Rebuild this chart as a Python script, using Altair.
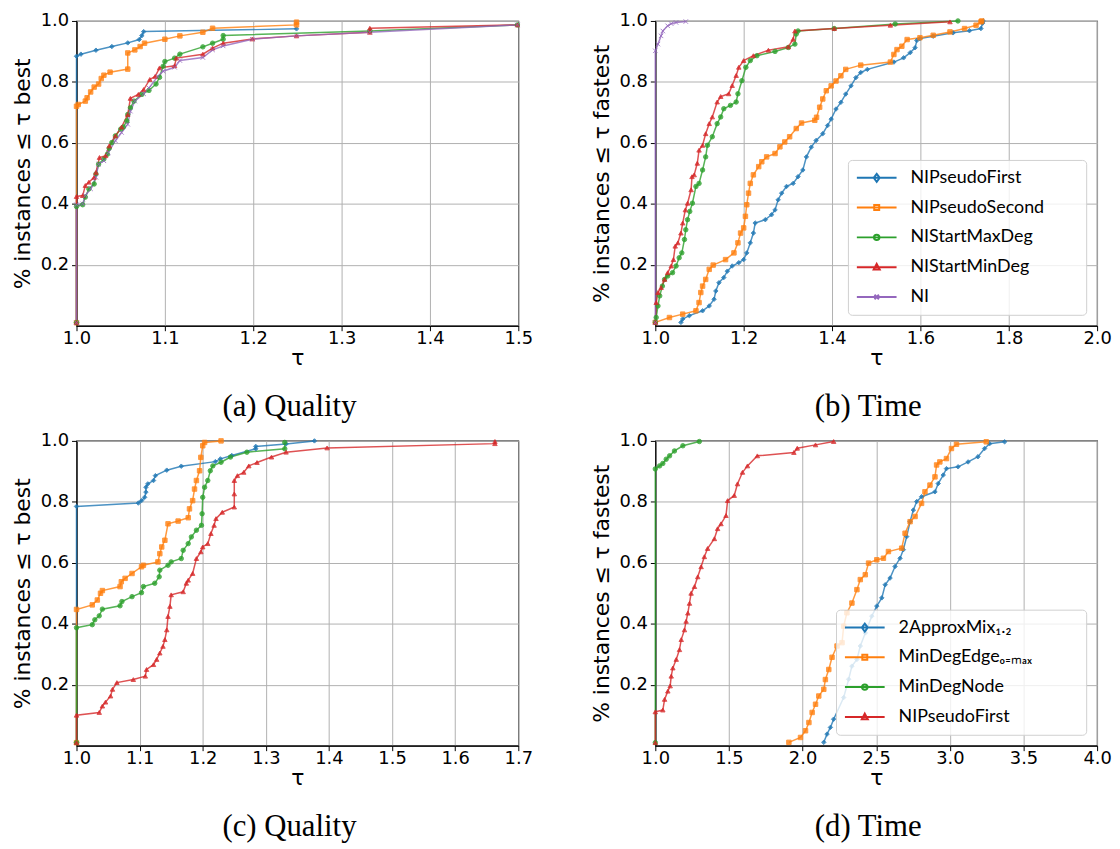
import altair as alt
import pandas as pd

# ---------------- data ----------------
A_NAMES = ["NIPseudoFirst", "NIPseudoSecond", "NIStartMaxDeg", "NIStartMinDeg", "NI"]
D_NAMES = ["2ApproxMix\u2081.\u2082", "MinDegEdge\u2092\u208c\u2098\u2090\u2093", "MinDegNode", "NIPseudoFirst"]

# (a) Quality
A_FIRST_T = [1.0, 1.0, 1.005, 1.022, 1.040, 1.058, 1.071, 1.074, 1.076, 1.249]
A_FIRST_Y = [0.01, 0.884, 0.891, 0.904, 0.916, 0.928, 0.939, 0.952, 0.965, 0.974]
A_SECOND_T = [1.0, 1.0, 1.002, 1.010, 1.012, 1.016, 1.020, 1.025, 1.028, 1.031, 1.038, 1.058, 1.058,
              1.066, 1.072, 1.077, 1.100, 1.117, 1.143, 1.154, 1.249, 1.249]
A_SECOND_Y = [0.01, 0.72, 0.726, 0.737, 0.748, 0.767, 0.783, 0.793, 0.811, 0.822, 0.832, 0.842, 0.895,
              0.905, 0.916, 0.927, 0.940, 0.951, 0.963, 0.976, 0.987, 0.996]
A_MAX_T = [1.0, 1.0, 1.007, 1.010, 1.014, 1.020, 1.022, 1.025, 1.031, 1.035, 1.037, 1.040, 1.044, 1.050,
           1.053, 1.057, 1.058, 1.061, 1.065, 1.074, 1.082, 1.090, 1.094, 1.098, 1.100, 1.111, 1.117,
           1.143, 1.154, 1.166, 1.166, 1.332, 1.499]
A_MAX_Y = [0.01, 0.391, 0.397, 0.422, 0.449, 0.465, 0.498, 0.530, 0.547, 0.563, 0.582, 0.601, 0.623, 0.645,
           0.652, 0.672, 0.693, 0.715, 0.737, 0.759, 0.772, 0.793, 0.815, 0.851, 0.867, 0.878, 0.891,
           0.915, 0.927, 0.940, 0.952, 0.967, 0.987]
A_MIN_T = [1.0, 1.0, 1.007, 1.010, 1.014, 1.020, 1.022, 1.026, 1.033, 1.037, 1.044, 1.051, 1.058, 1.061,
           1.070, 1.076, 1.083, 1.089, 1.094, 1.111, 1.113, 1.143, 1.154, 1.166, 1.199, 1.249, 1.332,
           1.332, 1.499]
A_MIN_Y = [0.01, 0.424, 0.427, 0.460, 0.471, 0.487, 0.503, 0.552, 0.558, 0.590, 0.623, 0.652, 0.693, 0.746,
           0.759, 0.775, 0.808, 0.818, 0.846, 0.853, 0.878, 0.891, 0.911, 0.927, 0.941, 0.951, 0.963,
           0.976, 0.987]
A_NI_T = [1.0, 1.0, 1.007, 1.010, 1.016, 1.022, 1.025, 1.031, 1.036, 1.044, 1.051, 1.058, 1.061, 1.066,
          1.076, 1.082, 1.092, 1.098, 1.111, 1.117, 1.143, 1.154, 1.166, 1.199, 1.249, 1.332, 1.499]
A_NI_Y = [0.01, 0.397, 0.400, 0.427, 0.449, 0.487, 0.530, 0.541, 0.568, 0.607, 0.634, 0.661, 0.704, 0.737,
          0.761, 0.780, 0.818, 0.835, 0.848, 0.870, 0.880, 0.905, 0.918, 0.940, 0.951, 0.963, 0.987]

# (b) Time
B_FIRST_T = [1.058, 1.062, 1.077, 1.107, 1.122, 1.133, 1.137, 1.144, 1.155, 1.163, 1.174, 1.189, 1.200,
             1.207, 1.215, 1.222, 1.226, 1.249, 1.263, 1.271, 1.278, 1.286, 1.297, 1.312, 1.323, 1.334,
             1.342, 1.353, 1.364, 1.379, 1.390, 1.398, 1.409, 1.420, 1.431, 1.443, 1.454, 1.465, 1.480,
             1.540, 1.562, 1.577, 1.588, 1.592, 1.599, 1.629, 1.674, 1.711, 1.737, 1.741, 1.742]
B_FIRST_Y = [0.011, 0.022, 0.033, 0.049, 0.065, 0.087, 0.114, 0.141, 0.158, 0.179, 0.196, 0.207, 0.217,
             0.239, 0.272, 0.304, 0.337, 0.348, 0.364, 0.380, 0.413, 0.435, 0.457, 0.467, 0.489, 0.511,
             0.554, 0.586, 0.608, 0.630, 0.657, 0.678, 0.711, 0.733, 0.760, 0.787, 0.814, 0.831, 0.841,
             0.865, 0.879, 0.896, 0.912, 0.936, 0.942, 0.950, 0.961, 0.968, 0.975, 0.993, 1.0]
B_SECOND_T = [1.0, 1.032, 1.062, 1.092, 1.099, 1.103, 1.107, 1.114, 1.122, 1.131, 1.159, 1.178, 1.187,
              1.193, 1.200, 1.204, 1.207, 1.211, 1.215, 1.222, 1.234, 1.241, 1.252, 1.271, 1.282, 1.293,
              1.304, 1.319, 1.331, 1.361, 1.365, 1.372, 1.379, 1.387, 1.398, 1.409, 1.420, 1.431, 1.465,
              1.532, 1.540, 1.547, 1.558, 1.570, 1.599, 1.629, 1.667, 1.700, 1.726, 1.737, 1.739]
B_SECOND_Y = [0.011, 0.027, 0.038, 0.049, 0.076, 0.109, 0.130, 0.152, 0.185, 0.199, 0.217, 0.239, 0.272,
              0.304, 0.321, 0.359, 0.397, 0.435, 0.467, 0.495, 0.522, 0.538, 0.554, 0.565, 0.587, 0.603,
              0.620, 0.647, 0.665, 0.674, 0.684, 0.717, 0.744, 0.771, 0.787, 0.803, 0.820, 0.841, 0.855,
              0.865, 0.890, 0.906, 0.917, 0.939, 0.945, 0.953, 0.964, 0.975, 0.986, 0.997, 1.0]
B_MAX_T = [1.0, 1.002, 1.006, 1.010, 1.016, 1.021, 1.028, 1.039, 1.047, 1.054, 1.060, 1.066, 1.069, 1.073,
           1.078, 1.084, 1.092, 1.099, 1.107, 1.114, 1.118, 1.129, 1.140, 1.148, 1.155, 1.170, 1.183,
           1.187, 1.196, 1.205, 1.215, 1.230, 1.271, 1.301, 1.316, 1.319, 1.323, 1.405, 1.543, 1.685]
B_MAX_Y = [0.011, 0.027, 0.065, 0.098, 0.130, 0.152, 0.163, 0.174, 0.196, 0.223, 0.239, 0.283, 0.315, 0.348,
           0.375, 0.402, 0.457, 0.467, 0.511, 0.554, 0.592, 0.620, 0.663, 0.685, 0.712, 0.723, 0.734,
           0.761, 0.804, 0.848, 0.870, 0.886, 0.900, 0.913, 0.924, 0.957, 0.967, 0.975, 0.990, 1.0]
B_MIN_T = [1.0, 1.002, 1.006, 1.013, 1.021, 1.028, 1.036, 1.041, 1.045, 1.051, 1.058, 1.062, 1.068, 1.073,
           1.081, 1.083, 1.088, 1.095, 1.099, 1.107, 1.114, 1.122, 1.129, 1.140, 1.148, 1.166, 1.174,
           1.183, 1.189, 1.200, 1.222, 1.256, 1.301, 1.312, 1.316, 1.405, 1.532, 1.667]
B_MIN_Y = [0.011, 0.076, 0.109, 0.125, 0.152, 0.174, 0.196, 0.217, 0.261, 0.272, 0.304, 0.337, 0.380, 0.402,
           0.446, 0.489, 0.495, 0.533, 0.576, 0.592, 0.630, 0.663, 0.685, 0.734, 0.752, 0.761, 0.788,
           0.821, 0.848, 0.870, 0.886, 0.904, 0.915, 0.940, 0.967, 0.975, 0.986, 0.997]
B_NI_T = [1.0, 1.0, 1.006, 1.013, 1.017, 1.028, 1.036, 1.047, 1.069]
B_NI_Y = [0.01, 0.902, 0.924, 0.951, 0.967, 0.984, 0.991, 0.995, 0.998]

# (c) Quality
C_MIX_T = [1.0, 1.0, 1.098, 1.103, 1.108, 1.110, 1.110, 1.113, 1.122, 1.125, 1.143, 1.166, 1.220, 1.228,
           1.246, 1.284, 1.284, 1.332, 1.377]
C_MIX_Y = [0.01, 0.785, 0.796, 0.804, 0.815, 0.832, 0.848, 0.859, 0.870, 0.886, 0.904, 0.917, 0.932, 0.941,
           0.952, 0.974, 0.982, 0.990, 1.0]
C_EDGE_T = [1.0, 1.0, 1.025, 1.033, 1.038, 1.041, 1.069, 1.071, 1.077, 1.088, 1.103, 1.106, 1.129, 1.132,
            1.135, 1.140, 1.145, 1.161, 1.177, 1.179, 1.184, 1.187, 1.190, 1.195, 1.197, 1.200, 1.203, 1.229]
C_EDGE_Y = [0.01, 0.447, 0.462, 0.478, 0.500, 0.509, 0.522, 0.538, 0.549, 0.565, 0.587, 0.592, 0.603, 0.630,
            0.652, 0.674, 0.728, 0.737, 0.748, 0.777, 0.804, 0.842, 0.870, 0.902, 0.946, 0.984, 0.995, 1.0]
C_NODE_T = [1.0, 1.0, 1.025, 1.029, 1.036, 1.041, 1.069, 1.072, 1.088, 1.103, 1.106, 1.124, 1.131, 1.132,
            1.145, 1.150, 1.166, 1.169, 1.177, 1.182, 1.190, 1.198, 1.199, 1.200, 1.203, 1.208, 1.212,
            1.216, 1.229, 1.244, 1.270, 1.330, 1.330]
C_NODE_Y = [0.01, 0.387, 0.397, 0.413, 0.426, 0.448, 0.459, 0.473, 0.489, 0.502, 0.522, 0.533, 0.554, 0.576,
            0.592, 0.603, 0.614, 0.641, 0.663, 0.685, 0.707, 0.723, 0.761, 0.815, 0.848, 0.870, 0.902,
            0.918, 0.930, 0.947, 0.963, 0.974, 0.995]
C_NIP_T = [1.0, 1.0, 1.036, 1.041, 1.046, 1.054, 1.057, 1.064, 1.090, 1.109, 1.111, 1.122, 1.127, 1.132,
           1.137, 1.140, 1.143, 1.145, 1.148, 1.150, 1.169, 1.174, 1.177, 1.184, 1.190, 1.197, 1.200,
           1.208, 1.213, 1.218, 1.221, 1.231, 1.250, 1.250, 1.250, 1.255, 1.265, 1.273, 1.286, 1.309,
           1.332, 1.397, 1.663, 1.663]
C_NIP_Y = [0.01, 0.100, 0.109, 0.130, 0.143, 0.163, 0.185, 0.207, 0.217, 0.228, 0.250, 0.266, 0.283, 0.304,
           0.326, 0.348, 0.380, 0.424, 0.457, 0.495, 0.505, 0.533, 0.543, 0.565, 0.614, 0.636, 0.652,
           0.663, 0.696, 0.723, 0.745, 0.766, 0.783, 0.826, 0.870, 0.886, 0.897, 0.918, 0.929, 0.947,
           0.963, 0.977, 0.991, 0.998]

# (d) Time
D_MIX_T = [2.144, 2.166, 2.189, 2.211, 2.279, 2.313, 2.335, 2.369, 2.392, 2.426, 2.470, 2.504, 2.538, 2.561,
           2.594, 2.628, 2.662, 2.684, 2.707, 2.730, 2.752, 2.775, 2.808, 2.899, 2.921, 2.955, 2.977,
           3.056, 3.124, 3.191, 3.236, 3.270, 3.372]
D_MIX_Y = [0.011, 0.038, 0.060, 0.087, 0.158, 0.218, 0.261, 0.283, 0.327, 0.370, 0.425, 0.458, 0.485, 0.528,
           0.550, 0.588, 0.615, 0.643, 0.686, 0.735, 0.773, 0.801, 0.817, 0.833, 0.860, 0.888, 0.909,
           0.915, 0.931, 0.948, 0.975, 0.991, 0.997]
D_EDGE_T = [1.907, 1.986, 2.020, 2.043, 2.065, 2.088, 2.110, 2.144, 2.155, 2.178, 2.200, 2.234, 2.268, 2.279,
            2.301, 2.335, 2.369, 2.392, 2.426, 2.448, 2.504, 2.549, 2.583, 2.673, 2.696, 2.730, 2.764,
            2.808, 2.831, 2.865, 2.899, 2.910, 2.932, 2.977, 3.011, 3.045, 3.247]
D_EDGE_Y = [0.011, 0.027, 0.049, 0.076, 0.109, 0.136, 0.163, 0.185, 0.217, 0.250, 0.290, 0.327, 0.338, 0.392,
            0.436, 0.468, 0.512, 0.545, 0.561, 0.599, 0.610, 0.615, 0.637, 0.648, 0.697, 0.735, 0.752,
            0.795, 0.833, 0.855, 0.882, 0.921, 0.931, 0.942, 0.975, 0.989, 0.997]
D_NODE_T = [1.0, 1.0, 1.029, 1.051, 1.074, 1.097, 1.130, 1.187, 1.299]
D_NODE_Y = [0.01, 0.908, 0.918, 0.926, 0.940, 0.951, 0.967, 0.984, 0.998]
D_NIP_T = [1.0, 1.0, 1.051, 1.063, 1.085, 1.101, 1.108, 1.119, 1.142, 1.164, 1.176, 1.198, 1.209, 1.221,
           1.232, 1.243, 1.266, 1.288, 1.311, 1.333, 1.355, 1.401, 1.423, 1.446, 1.480, 1.491, 1.536,
           1.558, 1.592, 1.626, 1.693, 1.941, 1.964, 2.088, 2.211]
D_NIP_Y = [0.01, 0.111, 0.117, 0.152, 0.179, 0.196, 0.228, 0.255, 0.283, 0.315, 0.348, 0.380, 0.408, 0.435,
           0.467, 0.500, 0.522, 0.554, 0.587, 0.620, 0.647, 0.679, 0.712, 0.728, 0.755, 0.804, 0.821,
           0.859, 0.897, 0.918, 0.951, 0.962, 0.976, 0.987, 0.998]

Y_TICKS = [0.2, 0.4, 0.6, 0.8, 1.0]
XA_TICKS = [1.0, 1.1, 1.2, 1.3, 1.4, 1.5]
XB_TICKS = [1.0, 1.2, 1.4, 1.6, 1.8, 2.0]
XC_TICKS = [1.0, 1.1, 1.2, 1.3, 1.4, 1.5, 1.6, 1.7]
XD_TICKS = [1.0, 1.5, 2.0, 2.5, 3.0, 3.5, 4.0]

# ---------------- styling ----------------
COLORS = ["#1f77b4", "#ff7f0e", "#2ca02c", "#d62728", "#9467bd"]
MARKERS = ["diamond", "square", "circle", "triangle-up", "M-1,-1L1,1M-1,1L1,-1"]
# legend symbols: a 40px line with a small marker (size 100 -> 5px per unit)
LEGEND_SYMBOLS = [
    "M-4,0H4M0,-0.8L0.6,0L0,0.8L-0.6,0Z",
    "M-4,0H4M-0.5,-0.5H0.5V0.5H-0.5Z",
    "M-4,0H4M-0.55,0A0.55,0.55 0 1 0 0.55,0A0.55,0.55 0 1 0 -0.55,0Z",
    "M-4,0H4M0,-0.65L0.6,0.45H-0.6Z",
    "M-4,0H4M-0.45,-0.45L0.45,0.45M-0.45,0.45L0.45,-0.45",
]
W, H = 445, 307


def make_df(names, ts_list, ys_list):
    rows = []
    for name, ts, ys in zip(names, ts_list, ys_list):
        for i, (t, v) in enumerate(zip(ts, ys)):
            rows.append({"series": name, "tau": t, "share": v, "idx": i})
    return pd.DataFrame(rows)


def panel(names, ts_list, ys_list, xdomain, xticks, ytitle, caption, legend, spacer=0):
    n = len(names)
    df = make_df(names, ts_list, ys_list)
    cols = COLORS[:n]
    base = alt.Chart(df).encode(
        x=alt.X("tau:Q", scale=alt.Scale(domain=xdomain, nice=False, zero=False),
                axis=alt.Axis(values=xticks, format=".1f", title="τ", labelPadding=-1, titlePadding=0)),
        y=alt.Y("share:Q", scale=alt.Scale(domain=[0, 1], nice=False, zero=False),
                axis=alt.Axis(values=Y_TICKS, format=".1f", title=ytitle, titlePadding=6)),
    )
    lines = base.mark_line(strokeWidth=1.5, opacity=0.8, clip=False).encode(
        color=alt.Color("series:N", scale=alt.Scale(domain=names, range=cols), legend=None),
        order="idx:Q",
    )
    points = base.mark_point(filled=True, size=20, opacity=0.8, strokeWidth=1, clip=False).encode(
        fill=alt.Fill("series:N", scale=alt.Scale(domain=names, range=cols), legend=None),
        stroke=alt.Stroke("series:N", scale=alt.Scale(domain=names, range=cols), legend=None),
        shape=alt.Shape("series:N", scale=alt.Scale(domain=names, range=MARKERS[:n]), legend=None),
    )
    layers = [lines, points]
    if legend:
        # an invisible title on the right widens the box like matplotlib's legend frame
        leg = alt.Legend(
            title="MM", titleOrient="right", titleColor="rgba(0,0,0,0)", titleFont="Lato",
            titleFontSize=spacer, titlePadding=2,
            orient="bottom-right", offset=11, padding=9,
            labelFont="Lato", labelFontSize=18, labelColor="black", labelOffset=25,
            symbolSize=100, symbolOffset=11, symbolStrokeWidth=2, symbolOpacity=1,
            rowPadding=12, strokeColor="#d0d0d0", fillColor="rgba(255,255,255,0.8)",
            cornerRadius=4,
        )
        dummy = base.mark_point(filled=False, opacity=0, strokeWidth=2).encode(
            color=alt.Color("series:N", scale=alt.Scale(domain=names, range=cols), legend=leg),
            shape=alt.Shape("series:N", scale=alt.Scale(domain=names, range=LEGEND_SYMBOLS[:n]), legend=leg),
        )
        layers.append(dummy)
    return alt.layer(*layers).resolve_scale(
        color="independent", shape="independent", fill="independent", stroke="independent"
    ).properties(
        width=W, height=H,
        title=alt.TitleParams(caption, orient="bottom", font="Liberation Serif", fontSize=31,
                              fontWeight="normal", color="black", offset=24, frame="group", dx=-8),
    )


pa = panel(A_NAMES, [A_FIRST_T, A_SECOND_T, A_MAX_T, A_MIN_T, A_NI_T],
           [A_FIRST_Y, A_SECOND_Y, A_MAX_Y, A_MIN_Y, A_NI_Y],
           [1.0, 1.5], XA_TICKS, "% instances ≤ τ best", "(a) Quality", False)
pb = panel(A_NAMES, [B_FIRST_T, B_SECOND_T, B_MAX_T, B_MIN_T, B_NI_T],
           [B_FIRST_Y, B_SECOND_Y, B_MAX_Y, B_MIN_Y, B_NI_Y],
           [1.0, 2.0], XB_TICKS, "% instances ≤ τ fastest", "(b) Time", True, spacer=16)
pc = panel(D_NAMES, [C_MIX_T, C_EDGE_T, C_NODE_T, C_NIP_T],
           [C_MIX_Y, C_EDGE_Y, C_NODE_Y, C_NIP_Y],
           [1.0, 1.7], XC_TICKS, "% instances ≤ τ best", "(c) Quality", False)
pd_ = panel(D_NAMES, [D_MIX_T, D_EDGE_T, D_NODE_T, D_NIP_T],
            [D_MIX_Y, D_EDGE_Y, D_NODE_Y, D_NIP_Y],
            [1.0, 4.0], XD_TICKS, "% instances ≤ τ fastest", "(d) Time", True, spacer=23)

chart = alt.concat(
    pa, pb, pc, pd_, columns=2, spacing={"row": 116, "column": 138}, bounds="flush",
).properties(
    padding={"left": 2, "top": 0, "right": 0, "bottom": 0}, background="white"
).configure_view(
    stroke="black", strokeWidth=1.2
).configure_axis(
    grid=True, gridColor="#b0b0b0", gridWidth=1, domainColor="black", domainWidth=1.2,
    tickColor="black", tickSize=5, tickWidth=1,
    labelFont="DejaVu Sans", labelFontSize=18, labelColor="black", labelFlush=False,
    labelOverlap=False, labelPadding=3,
    titleFont="DejaVu Sans", titleFontSize=22, titleFontWeight="normal", titleColor="black",
    titlePadding=4,
)

chart.save("out.html", embed_options={"renderer": "svg", "actions": False})
